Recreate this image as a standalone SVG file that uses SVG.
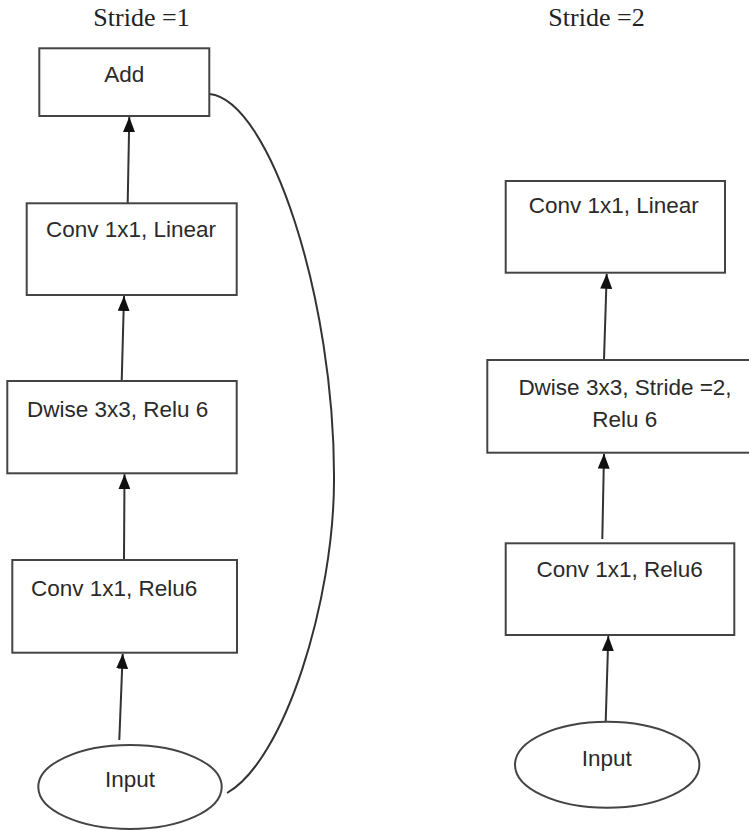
<svg xmlns="http://www.w3.org/2000/svg" width="749" height="831" viewBox="0 0 749 831">
<defs>
<marker id="ah" markerWidth="15" markerHeight="12" refX="15" refY="6" orient="auto" markerUnits="userSpaceOnUse" viewBox="0 0 15 12">
<path d="M0,0 L15,6 L0,12 Z" fill="#111"/>
</marker>
</defs>
<style>
.box{fill:#fff;stroke:#444;stroke-width:2}
.lbl{font-family:"Liberation Sans",Arial,sans-serif;font-size:22.5px;fill:#2a2a2a;text-anchor:middle}
.ttl{font-family:"Liberation Serif","Times New Roman",serif;font-size:26px;fill:#222;text-anchor:middle}
.edge{fill:none;stroke:#333;stroke-width:2}
</style>
<rect width="749" height="831" fill="#fff"/>
<text class="ttl" x="141.5" y="26">Stride =1</text>
<text class="ttl" x="596.5" y="26">Stride =2</text>
<g id="connectors">
<path class="edge" d="M127.7,203 L129.3,117" marker-end="url(#ah)"/>
<path class="edge" d="M121.7,381 L124,296" marker-end="url(#ah)"/>
<path class="edge" d="M124,560 L124.5,474.3" marker-end="url(#ah)"/>
<path class="edge" d="M119.3,740 L122.7,653.7" marker-end="url(#ah)"/>
<path class="edge" d="M209.5,94 C270,100 335,300 334,480 C334,600 285,760 227,793"/>
<path class="edge" d="M604,360 L606.7,273.7" marker-end="url(#ah)"/>
<path class="edge" d="M602.3,539 L604,453.7" marker-end="url(#ah)"/>
<path class="edge" d="M605.7,721.7 L608.3,636" marker-end="url(#ah)"/>
</g>
<g id="add">
<rect class="box" x="39.3" y="48.3" width="170" height="67.7"/>
<text class="lbl" x="124.3" y="81.5">Add</text>
</g>
<g id="conv-linear-1">
<rect class="box" x="26.7" y="203.3" width="210" height="91.7"/>
<text class="lbl" x="131" y="237.3">Conv 1x1, Linear</text>
</g>
<g id="dwise-1">
<rect class="box" x="7.3" y="381" width="229.4" height="92.3"/>
<text class="lbl" x="117.7" y="416.7">Dwise 3x3, Relu 6</text>
</g>
<g id="conv-relu6-1">
<rect class="box" x="12.3" y="560" width="224.7" height="92.7"/>
<text class="lbl" x="114.2" y="596">Conv 1x1, Relu6</text>
</g>
<g id="input-1">
<ellipse class="box" cx="130" cy="787" rx="91.7" ry="42"/>
<text class="lbl" x="130" y="786.7">Input</text>
</g>
<g id="conv-linear-2">
<rect class="box" x="505.7" y="181" width="219.3" height="91.7"/>
<text class="lbl" x="613.8" y="213.3">Conv 1x1, Linear</text>
</g>
<g id="dwise-2">
<rect class="box" x="487.3" y="360" width="265" height="92.7"/>
<text class="lbl" x="625" y="395">Dwise 3x3, Stride =2,</text>
<text class="lbl" x="624.7" y="426.7">Relu 6</text>
</g>
<g id="conv-relu6-2">
<rect class="box" x="505.7" y="543.3" width="228.6" height="91.7"/>
<text class="lbl" x="619.7" y="577.3">Conv 1x1, Relu6</text>
</g>
<g id="input-2">
<ellipse class="box" cx="607.2" cy="764.7" rx="92.2" ry="43"/>
<text class="lbl" x="606.7" y="766">Input</text>
</g>
</svg>
